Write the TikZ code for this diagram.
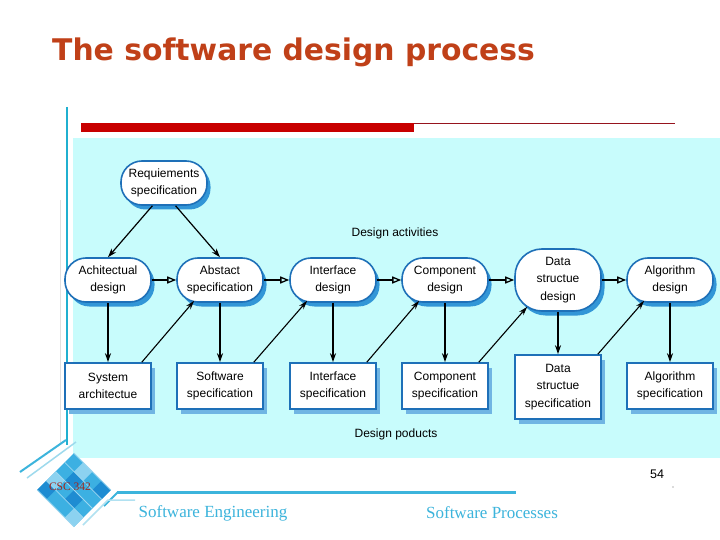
\documentclass[tikz,border=0pt]{standalone}
\usepackage{fontspec}
\setmainfont{Liberation Sans}
\newfontfamily\titlefont{DejaVu Sans}
\newfontfamily\footfont{Liberation Serif}
\usetikzlibrary{arrows.meta,calc,shadows}
\definecolor{titlecol}{RGB}{192,64,24}
\definecolor{barred}{RGB}{200,0,0}
\definecolor{thinred}{RGB}{150,20,30}
\definecolor{bgcyan}{RGB}{200,252,252}
\definecolor{sidecyan}{RGB}{32,176,208}
\definecolor{nodeblue}{RGB}{30,112,184}
\definecolor{shadowblue}{RGB}{50,150,215}
\definecolor{footblue}{RGB}{60,180,220}
\definecolor{logoA}{RGB}{60,176,226}
\definecolor{logoB}{RGB}{30,140,210}
\definecolor{logoC}{RGB}{140,210,240}
\definecolor{cscred}{RGB}{160,40,30}
\tikzset{
  act/.style={draw=nodeblue, line width=1.6pt, fill=white, rounded corners=21pt,
    minimum width=86pt, minimum height=44pt, align=center, inner sep=2pt,
    font=\fontsize{12}{17.5}\selectfont,
    drop shadow={shadow xshift=3.5pt, shadow yshift=-4.5pt, fill=shadowblue, opacity=1}},
  prod/.style={draw=nodeblue, line width=1.6pt, fill=white,
    minimum width=86pt, minimum height=46pt, align=center, inner sep=2pt,
    font=\fontsize{12}{17.5}\selectfont,
    drop shadow={shadow xshift=4pt, shadow yshift=-5pt, fill=shadowblue!70!white, opacity=1}},
  flow/.style={-{Triangle[open,length=9pt,width=7pt]}, line width=1.3pt},
  downarr/.style={-{Stealth[length=9pt,width=6pt]}, line width=1.4pt},
  diagarr/.style={-{Stealth[length=9pt,width=5.5pt]}, line width=1.1pt},
  lbl/.style={font=\fontsize{12}{14}\selectfont, inner sep=0pt},
  foot/.style={font=\footfont\fontsize{17}{20}\selectfont, text=footblue, inner sep=0pt}
}
\begin{document}
\begin{tikzpicture}[x=1pt,y=-1pt]
\useasboundingbox (0,0) rectangle (720,540);
\fill[white] (0,0) rectangle (720,540);
% title
\node[anchor=base west, inner sep=0pt, text=titlecol,
  font=\titlefont\bfseries\fontsize{29.8}{32}\selectfont] (title) at (52,61) {The software design process};
% side lines and bars
\draw[sidecyan, line width=2.5pt] (67,107) -- (67,445);
\draw[black!12, line width=1pt] (60,200) -- (60,445);
\fill[barred] (81,123) rectangle (414,132);
\draw[thinred, line width=1pt] (414,123.5) -- (675,123.5);
\fill[bgcyan] (73,138) rectangle (720,458);
% activities
\node[act] (req) at (164,183) {Requiements\\specification};
\node[act] (ad) at (108,280) {Achitectual\\design};
\node[act] (as) at (220,280) {Abstact\\specification};
\node[act] (id) at (333,280) {Interface\\design};
\node[act] (cd) at (445,280) {Component\\design};
\node[act, minimum height=62pt, rounded corners=27pt] (dsd) at (558,280) {Data\\structue\\design};
\node[act] (ald) at (670,280) {Algorithm\\design};
% products
\node[prod] (sa) at (108,386) {System\\architectue};
\node[prod] (ss) at (220,386) {Software\\specification};
\node[prod] (is) at (333,386) {Interface\\specification};
\node[prod] (cs) at (445,386) {Component\\specification};
\node[prod, minimum height=64pt] (dss) at (558,387) {Data\\structue\\specification};
\node[prod] (als) at (670,386) {Algorithm\\specification};
% labels
\node[lbl] (la) at (395,233) {Design activities};
\node[lbl] (lp) at (396,434) {Design poducts};
% arrows from requirements
\draw[downarr, line width=1.2pt] (req.243) -- (ad.north);
\draw[downarr, line width=1.2pt] (req.297) -- (as.north);
% flow between activities
\draw[flow] (ad) -- (as);
\draw[flow] (as) -- (id);
\draw[flow] (id) -- (cd);
\draw[flow] (cd) -- (dsd);
\draw[flow] (dsd) -- (ald);
% down arrows
\draw[downarr] (ad.south) -- (sa.north);
\draw[downarr] (as.south) -- (ss.north);
\draw[downarr] (id.south) -- (is.north);
\draw[downarr] (cd.south) -- (cs.north);
\draw[downarr] (dsd.south) -- (dss.north);
\draw[downarr] (ald.south) -- (als.north);
% diagonal arrows
\draw[diagarr] ($(sa.north east)+(-10,0)$) -- ($(as.south west)+(18,-2)$);
\draw[diagarr] ($(ss.north east)+(-10,0)$) -- ($(id.south west)+(18,-2)$);
\draw[diagarr] ($(is.north east)+(-10,0)$) -- ($(cd.south west)+(18,-2)$);
\draw[diagarr] ($(cs.north east)+(-10,0)$) -- ($(dsd.south west)+(13,-5)$);
\draw[diagarr] ($(dss.north east)+(-4,0)$) -- ($(ald.south west)+(18,-2)$);
% footer
\node[anchor=base west, inner sep=0pt, font=\fontsize{12.5}{14}\selectfont] (pg) at (650,478) {54};
\fill[black!60] (673,487) circle (0.6);
\draw[footblue, line width=3pt] (117,492) -- (516,492);
\draw[footblue, line width=2pt] (104,506) -- (118,492);
\draw[footblue!40, line width=1.5pt] (83,525) -- (108,500) -- (135,500);
\draw[footblue, line width=2pt] (20,472) -- (66,440);
\draw[footblue!50, line width=1.5pt] (27,478) -- (76,442);
% logo
\begin{scope}[shift={(74,490)}, rotate=45]
  \fill[logoA] (-26,-26) rectangle (26,26);
  \fill[logoB] (-26,-26) rectangle (-13,-13);
  \fill[logoB] (0,-13) rectangle (13,0);
  \fill[logoB] (13,13) rectangle (26,26);
  \fill[logoB] (-13,0) rectangle (0,13);
  \fill[logoC] (-13,-26) rectangle (0,-13);
  \fill[logoC] (13,-13) rectangle (26,0);
  \fill[logoC] (-26,13) rectangle (-13,26);
  \draw[white!50!logoA, line width=0.8pt] (-26,-26) grid[step=13] (26,26);
\end{scope}
\node[font=\footfont\fontsize{11.5}{13}\selectfont, text=cscred, inner sep=0pt] (csc) at (70,487) {CSC 342};
\node[foot] (se) at (213,513) {Software Engineering};
\node[foot] (sp) at (492,513) {Software Processes};
\end{tikzpicture}
\end{document}
